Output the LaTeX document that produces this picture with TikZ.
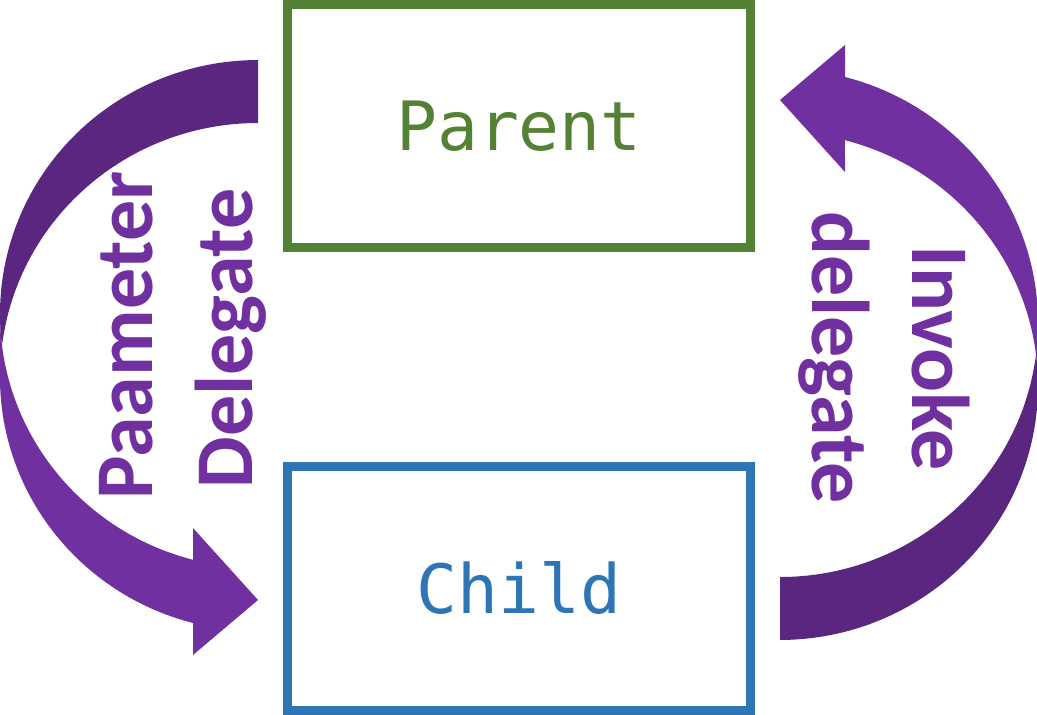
\documentclass[tikz,border=0pt]{standalone}
\usepackage{fontspec}
\newfontfamily\boxfont{DejaVu Sans Mono}
\newfontfamily\labelfont{Carlito}
\usetikzlibrary{positioning}
\definecolor{parentgreen}{HTML}{548235}
\definecolor{childblue}{HTML}{2E75B6}
\definecolor{arrowpurple}{HTML}{7030A0}
\definecolor{arrowback}{HTML}{5A2680}

\begin{document}
\begin{tikzpicture}[x=1pt, y=-1pt,
    boxnode/.style = {rectangle, draw, line width=9pt, outer sep=0pt,
      minimum width=463pt, minimum height=243pt,
      font=\boxfont\fontsize{68}{80}\selectfont},
    arrowlabel/.style = {text=arrowpurple, anchor=base, inner sep=0pt,
      font=\labelfont\bfseries\fontsize{82}{100}\selectfont}]
  \useasboundingbox (0,0) rectangle (1037,715);

  % bent arrows, the right one is the left one turned round
  \foreach \turn in {0,180} {
    \begin{scope}[rotate around={\turn:(519,350)}]
      \fill[arrowpurple] (0,314) arc[start angle=180, end angle=104.59, x radius=258, y radius=254]
        -- (193,528) -- (258,600) -- (193,655) -- (193,623)
        arc[start angle=104.59, end angle=180, x radius=258, y radius=254] -- cycle;
      \fill[arrowback] (258,123) arc[start angle=270, end angle=187.12, x radius=258, y radius=254]
        arc[start angle=172.88, end angle=270, x radius=258, y radius=254] -- cycle;
    \end{scope}
  }

  \node[boxnode, draw=parentgreen, text=parentgreen] (parent) at (519,126) {Parent};
  \node[boxnode, draw=childblue, text=childblue, minimum height=244pt,
    below=218.5pt of parent] (child) {Child};

  \node[arrowlabel, rotate=90] (paam) at (152,335.5) {Paameter};
  \node[arrowlabel, rotate=90] (dele) at (252,338.5) {Delegate};
  \node[arrowlabel, rotate=-90] (invk) at (912,358) {Invoke};
  \node[arrowlabel, rotate=-90] (dlgt) at (812,357.5) {delegate};
\end{tikzpicture}
\end{document}
